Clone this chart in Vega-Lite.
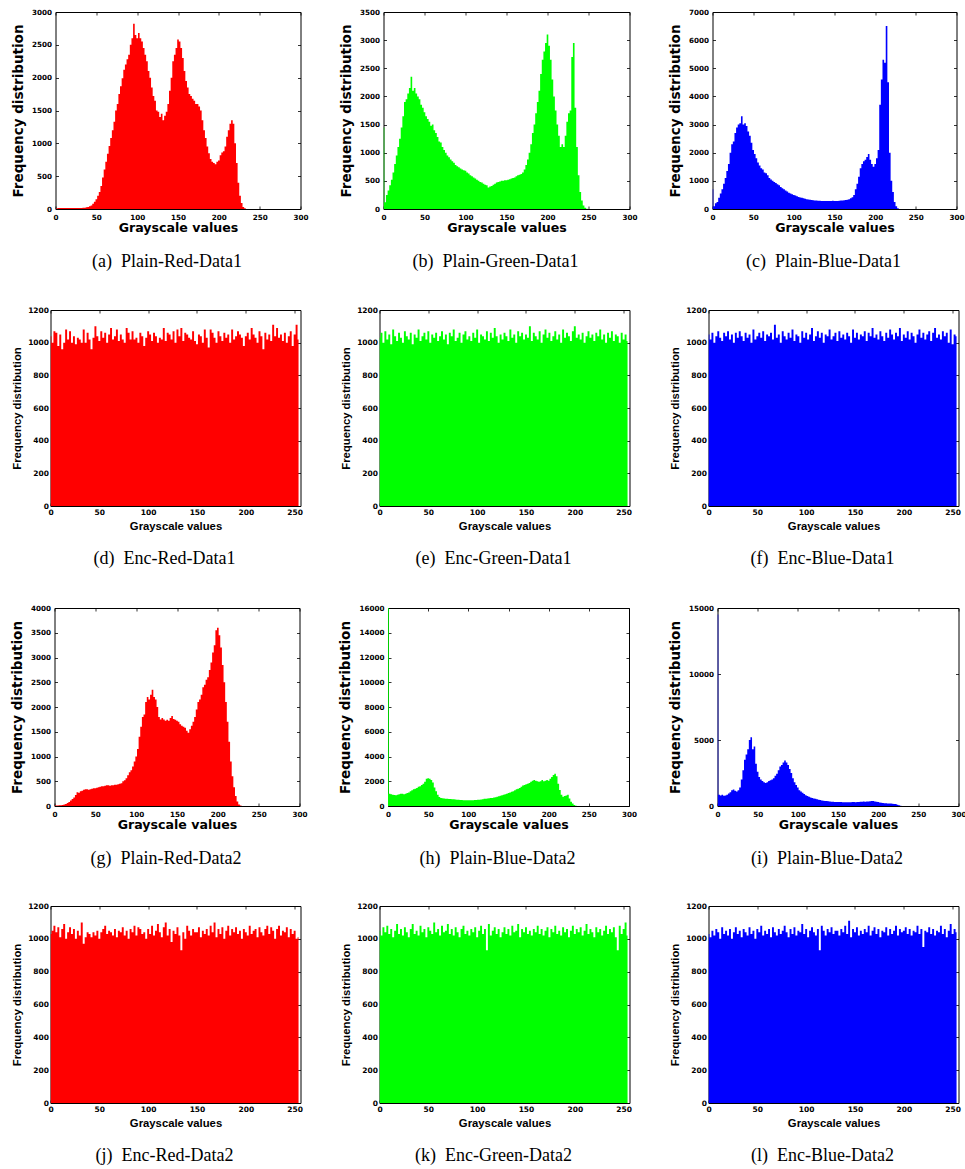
{
"$schema": "https://vega.github.io/schema/vega-lite/v6.json",
"padding": {"left": 9.5, "top": 7, "right": 0, "bottom": 0},
"background": "#ffffff",
"config": {
  "numberFormat": "d",
  "view": {"stroke": "#000000", "strokeWidth": 1},
  "axis": {"labelFont": "DejaVu Sans", "labelFontWeight": "bold", "labelFontSize": 7.2, "labelColor": "#000000", "titleFont": "DejaVu Sans", "titleFontWeight": "bold", "titleColor": "#000000", "domain": false, "ticks": true, "tickColor": "#000000", "tickSize": -3, "tickWidth": 0.8, "grid": false, "labelPadding": 7, "minExtent": 0, "labelFlush": false, "labelOverlap": false, "format": "d"},
  "axisX": {"titleFontSize": 12.6, "titlePadding": 1},
  "axisY": {"titleFontSize": 13.5, "titlePadding": 6},
  "title": {"font": "Liberation Serif", "fontSize": 18, "fontWeight": "normal", "color": "#000000", "orient": "bottom", "anchor": "middle", "frame": "group", "dx": -11}
},
"datasets": {
"p1": [
{"v":0,"r":0,"g":1450,"b":700},{"v":2,"r":10,"g":120,"b":100},{"v":4,"r":15,"g":250,"b":200},{"v":6,"r":15,"g":330,"b":250},{"v":8,"r":15,"g":420,"b":400},{"v":10,"r":15,"g":520,"b":550},{"v":12,"r":15,"g":650,"b":700},{"v":14,"r":15,"g":800,"b":900},{"v":16,"r":15,"g":950,"b":1100},{"v":18,"r":15,"g":1100,"b":1350},{"v":20,"r":15,"g":1250,"b":1600},{"v":22,"r":15,"g":1450,"b":2000},{"v":24,"r":15,"g":1650,"b":2300},{"v":26,"r":15,"g":1900,"b":2400},{"v":28,"r":15,"g":1950,"b":2700},{"v":30,"r":15,"g":2050,"b":2900},
{"v":32,"r":15,"g":2150,"b":3000},{"v":34,"r":20,"g":2350,"b":3050},{"v":36,"r":20,"g":2100,"b":3300},{"v":38,"r":25,"g":2150,"b":3000},{"v":40,"r":30,"g":2050,"b":3050},{"v":42,"r":40,"g":2000,"b":2950},{"v":44,"r":55,"g":1950,"b":2750},{"v":46,"r":80,"g":1850,"b":2600},{"v":48,"r":110,"g":1800,"b":2350},{"v":50,"r":150,"g":1720,"b":2100},{"v":52,"r":200,"g":1650,"b":1950},{"v":54,"r":260,"g":1600,"b":1800},{"v":56,"r":350,"g":1550,"b":1650},{"v":58,"r":480,"g":1480,"b":1550},{"v":60,"r":600,"g":1500,"b":1450},{"v":62,"r":720,"g":1400,"b":1400},
{"v":64,"r":840,"g":1350,"b":1300},{"v":66,"r":960,"g":1280,"b":1270},{"v":68,"r":1080,"g":1200,"b":1200},{"v":70,"r":1200,"g":1180,"b":1100},{"v":72,"r":1330,"g":1100,"b":1050},{"v":74,"r":1500,"g":1050,"b":1000},{"v":76,"r":1600,"g":1000,"b":960},{"v":78,"r":1750,"g":950,"b":920},{"v":80,"r":1870,"g":920,"b":880},{"v":82,"r":1990,"g":880,"b":840},{"v":84,"r":2120,"g":850,"b":780},{"v":86,"r":2200,"g":820,"b":740},{"v":88,"r":2280,"g":780,"b":700},{"v":90,"r":2350,"g":760,"b":660},{"v":92,"r":2500,"g":740,"b":620},{"v":94,"r":2600,"g":720,"b":580},
{"v":96,"r":2820,"g":700,"b":550},{"v":98,"r":2650,"g":690,"b":520},{"v":100,"r":2600,"g":680,"b":500},{"v":102,"r":2680,"g":650,"b":480},{"v":104,"r":2600,"g":630,"b":450},{"v":106,"r":2550,"g":600,"b":430},{"v":108,"r":2450,"g":580,"b":410},{"v":110,"r":2350,"g":560,"b":400},{"v":112,"r":2250,"g":540,"b":380},{"v":114,"r":2100,"g":520,"b":360},{"v":116,"r":2000,"g":500,"b":350},{"v":118,"r":1850,"g":480,"b":340},{"v":120,"r":1720,"g":470,"b":330},{"v":122,"r":1650,"g":450,"b":320},{"v":124,"r":1500,"g":430,"b":310},{"v":126,"r":1480,"g":420,"b":300},
{"v":128,"r":1400,"g":380,"b":300},{"v":130,"r":1450,"g":400,"b":290},{"v":132,"r":1350,"g":410,"b":290},{"v":134,"r":1420,"g":430,"b":280},{"v":136,"r":1480,"g":450,"b":280},{"v":138,"r":1600,"g":470,"b":280},{"v":140,"r":1800,"g":480,"b":280},{"v":142,"r":2000,"g":490,"b":280},{"v":144,"r":2250,"g":500,"b":280},{"v":146,"r":2350,"g":500,"b":280},{"v":148,"r":2450,"g":510,"b":290},{"v":150,"r":2580,"g":510,"b":280},{"v":152,"r":2550,"g":520,"b":280},{"v":154,"r":2450,"g":530,"b":280},{"v":156,"r":2300,"g":540,"b":290},{"v":158,"r":2100,"g":550,"b":300},
{"v":160,"r":1950,"g":560,"b":300},{"v":162,"r":1850,"g":580,"b":310},{"v":164,"r":1750,"g":600,"b":320},{"v":166,"r":1720,"g":610,"b":330},{"v":168,"r":1680,"g":620,"b":350},{"v":170,"r":1650,"g":650,"b":380},{"v":172,"r":1600,"g":700,"b":420},{"v":174,"r":1600,"g":780,"b":500},{"v":176,"r":1560,"g":880,"b":700},{"v":178,"r":1500,"g":1000,"b":900},{"v":180,"r":1350,"g":1150,"b":1150},{"v":182,"r":1200,"g":1350,"b":1450},{"v":184,"r":1080,"g":1500,"b":1600},{"v":186,"r":950,"g":1700,"b":1700},{"v":188,"r":850,"g":1900,"b":1750},{"v":190,"r":760,"g":2100,"b":1850},
{"v":192,"r":720,"g":2400,"b":1950},{"v":194,"r":700,"g":2650,"b":1750},{"v":196,"r":680,"g":2800,"b":1600},{"v":198,"r":720,"g":2950,"b":1500},{"v":200,"r":740,"g":3100,"b":1600},{"v":202,"r":820,"g":2900,"b":1800},{"v":204,"r":860,"g":2650,"b":2100},{"v":206,"r":880,"g":2300,"b":3700},{"v":208,"r":950,"g":2000,"b":4600},{"v":210,"r":1100,"g":1750,"b":5300},{"v":212,"r":1200,"g":1500,"b":5200},{"v":214,"r":1300,"g":1300,"b":6500},{"v":216,"r":1350,"g":1100,"b":4500},{"v":218,"r":1300,"g":1150,"b":2000},{"v":220,"r":1000,"g":1100,"b":1000},{"v":222,"r":700,"g":1300,"b":600},
{"v":224,"r":400,"g":1550,"b":250},{"v":226,"r":200,"g":1700,"b":100},{"v":228,"r":90,"g":1750,"b":30},{"v":230,"r":30,"g":2700,"b":0},{"v":232,"r":10,"g":2950,"b":0},{"v":234,"r":0,"g":1800,"b":0},{"v":236,"r":0,"g":1100,"b":0},{"v":238,"r":0,"g":600,"b":0},{"v":240,"r":0,"g":300,"b":0},{"v":242,"r":0,"g":150,"b":0},{"v":244,"r":0,"g":60,"b":0},{"v":246,"r":0,"g":20,"b":0},{"v":248,"r":0,"g":5,"b":0},{"v":250,"r":0,"g":0,"b":0},{"v":252,"r":0,"g":0,"b":0},{"v":254,"r":0,"g":0,"b":0}
],
"p2": [
{"v":0,"r":10,"g":16000,"b":14500},{"v":2,"r":10,"g":1000,"b":850},{"v":4,"r":10,"g":950,"b":800},{"v":6,"r":15,"g":900,"b":850},{"v":8,"r":15,"g":880,"b":780},{"v":10,"r":20,"g":860,"b":800},{"v":12,"r":30,"g":900,"b":850},{"v":14,"r":40,"g":950,"b":950},{"v":16,"r":60,"g":980,"b":1050},{"v":18,"r":80,"g":1000,"b":1200},{"v":20,"r":110,"g":950,"b":1250},{"v":22,"r":140,"g":980,"b":1150},{"v":24,"r":170,"g":1050,"b":1100},{"v":26,"r":220,"g":1100,"b":1200},{"v":28,"r":280,"g":1200,"b":1400},{"v":30,"r":270,"g":1280,"b":2000},
{"v":32,"r":300,"g":1350,"b":2700},{"v":34,"r":310,"g":1400,"b":3500},{"v":36,"r":330,"g":1450,"b":3900},{"v":38,"r":340,"g":1550,"b":4300},{"v":40,"r":340,"g":1600,"b":5000},{"v":42,"r":330,"g":1700,"b":5200},{"v":44,"r":340,"g":1800,"b":4300},{"v":46,"r":350,"g":1950,"b":4500},{"v":48,"r":360,"g":2200,"b":3200},{"v":50,"r":360,"g":2250,"b":2600},{"v":52,"r":370,"g":2200,"b":2200},{"v":54,"r":380,"g":2100,"b":2000},{"v":56,"r":390,"g":1900,"b":1900},{"v":58,"r":400,"g":1500,"b":1800},{"v":60,"r":400,"g":1200,"b":1750},{"v":62,"r":410,"g":900,"b":1800},
{"v":64,"r":420,"g":720,"b":1900},{"v":66,"r":420,"g":650,"b":1950},{"v":68,"r":410,"g":620,"b":2000},{"v":70,"r":420,"g":600,"b":2100},{"v":72,"r":420,"g":590,"b":2300},{"v":74,"r":430,"g":580,"b":2450},{"v":76,"r":430,"g":570,"b":2700},{"v":78,"r":440,"g":560,"b":3000},{"v":80,"r":450,"g":550,"b":3100},{"v":82,"r":460,"g":540,"b":3300},{"v":84,"r":500,"g":520,"b":3450},{"v":86,"r":520,"g":510,"b":3300},{"v":88,"r":560,"g":500,"b":3100},{"v":90,"r":620,"g":490,"b":2800},{"v":92,"r":680,"g":480,"b":2500},{"v":94,"r":720,"g":470,"b":2100},
{"v":96,"r":800,"g":460,"b":1800},{"v":98,"r":900,"g":460,"b":1600},{"v":100,"r":1000,"g":460,"b":1400},{"v":102,"r":1150,"g":460,"b":1200},{"v":104,"r":1400,"g":470,"b":1100},{"v":106,"r":1600,"g":470,"b":1000},{"v":108,"r":1800,"g":480,"b":900},{"v":110,"r":1850,"g":490,"b":820},{"v":112,"r":2100,"g":500,"b":760},{"v":114,"r":2200,"g":510,"b":700},{"v":116,"r":2150,"g":530,"b":650},{"v":118,"r":2250,"g":550,"b":600},{"v":120,"r":2350,"g":580,"b":560},{"v":122,"r":2200,"g":590,"b":540},{"v":124,"r":2150,"g":600,"b":520},{"v":126,"r":2000,"g":620,"b":480},
{"v":128,"r":1800,"g":640,"b":450},{"v":130,"r":1750,"g":650,"b":420},{"v":132,"r":1780,"g":680,"b":400},{"v":134,"r":1750,"g":700,"b":380},{"v":136,"r":1720,"g":740,"b":370},{"v":138,"r":1740,"g":780,"b":360},{"v":140,"r":1720,"g":820,"b":340},{"v":142,"r":1780,"g":860,"b":330},{"v":144,"r":1820,"g":900,"b":320},{"v":146,"r":1760,"g":950,"b":310},{"v":148,"r":1740,"g":1000,"b":300},{"v":150,"r":1720,"g":1050,"b":300},{"v":152,"r":1700,"g":1100,"b":300},{"v":154,"r":1650,"g":1150,"b":300},{"v":156,"r":1620,"g":1200,"b":290},{"v":158,"r":1600,"g":1280,"b":290},
{"v":160,"r":1580,"g":1350,"b":290},{"v":162,"r":1520,"g":1400,"b":290},{"v":164,"r":1480,"g":1450,"b":280},{"v":166,"r":1550,"g":1550,"b":290},{"v":168,"r":1620,"g":1650,"b":300},{"v":170,"r":1700,"g":1700,"b":300},{"v":172,"r":1800,"g":1750,"b":290},{"v":174,"r":1950,"g":1800,"b":300},{"v":176,"r":2100,"g":1850,"b":310},{"v":178,"r":2150,"g":1950,"b":320},{"v":180,"r":2250,"g":2050,"b":330},{"v":182,"r":2400,"g":2100,"b":340},{"v":184,"r":2450,"g":2050,"b":330},{"v":186,"r":2550,"g":2000,"b":350},{"v":188,"r":2600,"g":1950,"b":340},{"v":190,"r":2750,"g":2000,"b":360},
{"v":192,"r":2900,"g":2100,"b":370},{"v":194,"r":3100,"g":2000,"b":380},{"v":196,"r":3250,"g":2050,"b":350},{"v":198,"r":3550,"g":2100,"b":320},{"v":200,"r":3600,"g":2050,"b":300},{"v":202,"r":3450,"g":2200,"b":260},{"v":204,"r":3200,"g":2350,"b":240},{"v":206,"r":2850,"g":2500,"b":220},{"v":208,"r":2500,"g":2600,"b":210},{"v":210,"r":2100,"g":2400,"b":200},{"v":212,"r":1700,"g":1800,"b":190},{"v":214,"r":1300,"g":1300,"b":180},{"v":216,"r":900,"g":900,"b":180},{"v":218,"r":600,"g":750,"b":170},{"v":220,"r":380,"g":800,"b":160},{"v":222,"r":200,"g":850,"b":150},
{"v":224,"r":90,"g":900,"b":100},{"v":226,"r":30,"g":600,"b":50},{"v":228,"r":10,"g":350,"b":20},{"v":230,"r":0,"g":200,"b":0},{"v":232,"r":0,"g":80,"b":0},{"v":234,"r":0,"g":30,"b":0},{"v":236,"r":0,"g":10,"b":0},{"v":238,"r":0,"g":0,"b":0},{"v":240,"r":0,"g":0,"b":0},{"v":242,"r":0,"g":0,"b":0},{"v":244,"r":0,"g":0,"b":0},{"v":246,"r":0,"g":0,"b":0},{"v":248,"r":0,"g":0,"b":0},{"v":250,"r":0,"g":0,"b":0},{"v":252,"r":0,"g":0,"b":0},{"v":254,"r":0,"g":0,"b":0}
],
"e1": [
{"v":0,"r":1040,"g":1030,"b":1050},{"v":2,"r":1000,"g":1060,"b":1020},{"v":4,"r":1070,"g":1000,"b":1060},{"v":6,"r":1060,"g":1070,"b":1000},{"v":8,"r":980,"g":1020,"b":1040},{"v":10,"r":1050,"g":1050,"b":1070},{"v":12,"r":960,"g":990,"b":1030},{"v":14,"r":1000,"g":1080,"b":1010},{"v":16,"r":1080,"g":1040,"b":1060},{"v":18,"r":1020,"g":1010,"b":1040},{"v":20,"r":1070,"g":1060,"b":1070},{"v":22,"r":1000,"g":1030,"b":1020},{"v":24,"r":1040,"g":1000,"b":1050},{"v":26,"r":990,"g":1070,"b":1000},{"v":28,"r":1030,"g":1040,"b":1060},{"v":30,"r":1020,"g":1020,"b":1030},
{"v":32,"r":1000,"g":1060,"b":1070},{"v":34,"r":1080,"g":990,"b":1040},{"v":36,"r":1000,"g":1050,"b":1010},{"v":38,"r":1060,"g":1030,"b":1060},{"v":40,"r":1020,"g":1080,"b":1030},{"v":42,"r":960,"g":1010,"b":1050},{"v":44,"r":1030,"g":1040,"b":1000},{"v":46,"r":1100,"g":1060,"b":1080},{"v":48,"r":1040,"g":1020,"b":1020},{"v":50,"r":1010,"g":1070,"b":1040},{"v":52,"r":1070,"g":1000,"b":1060},{"v":54,"r":1030,"g":1050,"b":1030},{"v":56,"r":1060,"g":1030,"b":1070},{"v":58,"r":1000,"g":1060,"b":1010},{"v":60,"r":1050,"g":1010,"b":1050},{"v":62,"r":1090,"g":1040,"b":1040},
{"v":64,"r":1020,"g":1070,"b":1060},{"v":66,"r":1040,"g":1020,"b":1020},{"v":68,"r":1080,"g":1050,"b":1110},{"v":70,"r":1010,"g":990,"b":1030},{"v":72,"r":1050,"g":1060,"b":1050},{"v":74,"r":1020,"g":1040,"b":1000},{"v":76,"r":1000,"g":1080,"b":1070},{"v":78,"r":1090,"g":1010,"b":1040},{"v":80,"r":1060,"g":1030,"b":1020},{"v":82,"r":1020,"g":1060,"b":1060},{"v":84,"r":1070,"g":1000,"b":1030},{"v":86,"r":1020,"g":1050,"b":1080},{"v":88,"r":1030,"g":1070,"b":1010},{"v":90,"r":1000,"g":1020,"b":1050},{"v":92,"r":1060,"g":1040,"b":1040},{"v":94,"r":1040,"g":1010,"b":1000},
{"v":96,"r":980,"g":1060,"b":1070},{"v":98,"r":1030,"g":1030,"b":1030},{"v":100,"r":1070,"g":1080,"b":1060},{"v":102,"r":1050,"g":1000,"b":1020},{"v":104,"r":1010,"g":1050,"b":1050},{"v":106,"r":1060,"g":1040,"b":1090},{"v":108,"r":1040,"g":1020,"b":1010},{"v":110,"r":1000,"g":1070,"b":1040},{"v":112,"r":1030,"g":1010,"b":1070},{"v":114,"r":1020,"g":1060,"b":1030},{"v":116,"r":1090,"g":1030,"b":1060},{"v":118,"r":1010,"g":1090,"b":1000},{"v":120,"r":1060,"g":1040,"b":1050},{"v":122,"r":1050,"g":1000,"b":1040},{"v":124,"r":1020,"g":1050,"b":1080},{"v":126,"r":1070,"g":1020,"b":1020},
{"v":128,"r":1000,"g":1060,"b":1040},{"v":130,"r":1080,"g":1040,"b":1060},{"v":132,"r":1040,"g":1010,"b":1010},{"v":134,"r":1090,"g":1080,"b":1070},{"v":136,"r":1010,"g":1030,"b":1030},{"v":138,"r":1060,"g":1050,"b":1050},{"v":140,"r":1050,"g":1000,"b":1020},{"v":142,"r":1030,"g":1070,"b":1060},{"v":144,"r":1020,"g":1040,"b":1040},{"v":146,"r":1070,"g":1060,"b":1000},{"v":148,"r":1010,"g":1020,"b":1080},{"v":150,"r":990,"g":1050,"b":1030},{"v":152,"r":1050,"g":1030,"b":1060},{"v":154,"r":1040,"g":1100,"b":1020},{"v":156,"r":1000,"g":1010,"b":1050},{"v":158,"r":1080,"g":1060,"b":1040},
{"v":160,"r":1030,"g":1040,"b":1070},{"v":162,"r":970,"g":1020,"b":1010},{"v":164,"r":1080,"g":1070,"b":1060},{"v":166,"r":1060,"g":1000,"b":1040},{"v":168,"r":1030,"g":1050,"b":1090},{"v":170,"r":1000,"g":1080,"b":1030},{"v":172,"r":1070,"g":1030,"b":1050},{"v":174,"r":1040,"g":1060,"b":1020},{"v":176,"r":1010,"g":1010,"b":1070},{"v":178,"r":1060,"g":1040,"b":1040},{"v":180,"r":1030,"g":1070,"b":1010},{"v":182,"r":1050,"g":1020,"b":1060},{"v":184,"r":1000,"g":1050,"b":1030},{"v":186,"r":1080,"g":1000,"b":1080},{"v":188,"r":1020,"g":1080,"b":1050},{"v":190,"r":1040,"g":1030,"b":1020},
{"v":192,"r":1070,"g":1060,"b":1060},{"v":194,"r":1050,"g":1040,"b":1040},{"v":196,"r":1030,"g":1010,"b":1090},{"v":198,"r":980,"g":1070,"b":1010},{"v":200,"r":1040,"g":1100,"b":1050},{"v":202,"r":1060,"g":1030,"b":1030},{"v":204,"r":1020,"g":1050,"b":1070},{"v":206,"r":1090,"g":1020,"b":1020},{"v":208,"r":1050,"g":1060,"b":1060},{"v":210,"r":1030,"g":1000,"b":1040},{"v":212,"r":1000,"g":1040,"b":1000},{"v":214,"r":1070,"g":1070,"b":1050},{"v":216,"r":1040,"g":1030,"b":1080},{"v":218,"r":960,"g":1050,"b":1030},{"v":220,"r":1060,"g":1010,"b":1060},{"v":222,"r":1020,"g":1060,"b":1020},
{"v":224,"r":1050,"g":1040,"b":1050},{"v":226,"r":1010,"g":1080,"b":1070},{"v":228,"r":1110,"g":1020,"b":1010},{"v":230,"r":1040,"g":1050,"b":1060},{"v":232,"r":1090,"g":1000,"b":1090},{"v":234,"r":1030,"g":1060,"b":1030},{"v":236,"r":1050,"g":1030,"b":1050},{"v":238,"r":1010,"g":1070,"b":1020},{"v":240,"r":1060,"g":1010,"b":1070},{"v":242,"r":1000,"g":1050,"b":1040},{"v":244,"r":1040,"g":1040,"b":1060},{"v":246,"r":1070,"g":1000,"b":1000},{"v":248,"r":980,"g":1060,"b":1080},{"v":250,"r":1050,"g":1020,"b":990},{"v":252,"r":1110,"g":1050,"b":1050},{"v":254,"r":1020,"g":1010,"b":1040}
],
"e2": [
{"v":0,"r":1030,"g":1050,"b":1030},{"v":2,"r":1050,"g":1020,"b":1010},{"v":4,"r":1080,"g":1070,"b":1050},{"v":6,"r":1040,"g":1040,"b":1020},{"v":8,"r":1070,"g":1080,"b":1060},{"v":10,"r":1010,"g":1030,"b":1040},{"v":12,"r":1060,"g":1060,"b":1000},{"v":14,"r":1090,"g":1010,"b":1070},{"v":16,"r":1000,"g":1050,"b":1030},{"v":18,"r":1040,"g":1090,"b":1050},{"v":20,"r":1070,"g":1030,"b":1020},{"v":22,"r":1030,"g":1060,"b":1060},{"v":24,"r":1060,"g":1020,"b":1000},{"v":26,"r":1000,"g":1070,"b":1040},{"v":28,"r":1050,"g":1040,"b":1070},{"v":30,"r":1020,"g":1010,"b":1030},
{"v":32,"r":1100,"g":1060,"b":1050},{"v":34,"r":970,"g":1090,"b":1010},{"v":36,"r":1010,"g":1030,"b":1060},{"v":38,"r":1040,"g":1050,"b":1040},{"v":40,"r":1030,"g":1020,"b":1020},{"v":42,"r":1010,"g":1080,"b":1070},{"v":44,"r":1040,"g":1040,"b":1030},{"v":46,"r":1020,"g":1060,"b":1050},{"v":48,"r":1050,"g":1010,"b":1000},{"v":50,"r":1000,"g":1070,"b":1060},{"v":52,"r":1040,"g":1050,"b":1040},{"v":54,"r":1060,"g":1030,"b":1080},{"v":56,"r":1080,"g":1100,"b":1020},{"v":58,"r":1030,"g":1040,"b":1050},{"v":60,"r":1050,"g":1060,"b":1030},{"v":62,"r":1040,"g":1020,"b":1060},
{"v":64,"r":1020,"g":1080,"b":1010},{"v":66,"r":1060,"g":1040,"b":1070},{"v":68,"r":1010,"g":1050,"b":1040},{"v":70,"r":1050,"g":1090,"b":1020},{"v":72,"r":1040,"g":1030,"b":1060},{"v":74,"r":1070,"g":1060,"b":1030},{"v":76,"r":1020,"g":1020,"b":1050},{"v":78,"r":1050,"g":1070,"b":1080},{"v":80,"r":1000,"g":1040,"b":1040},{"v":82,"r":1060,"g":1010,"b":1010},{"v":84,"r":1040,"g":1060,"b":1060},{"v":86,"r":1080,"g":1080,"b":1030},{"v":88,"r":1020,"g":1030,"b":1070},{"v":90,"r":1070,"g":1050,"b":1020},{"v":92,"r":1060,"g":1020,"b":1050},{"v":94,"r":1030,"g":1060,"b":1040},
{"v":96,"r":1040,"g":1040,"b":1090},{"v":98,"r":1000,"g":1070,"b":1030},{"v":100,"r":1060,"g":1010,"b":1060},{"v":102,"r":1030,"g":1050,"b":1010},{"v":104,"r":1080,"g":1080,"b":1050},{"v":106,"r":1020,"g":1030,"b":1070},{"v":108,"r":1050,"g":1060,"b":1040},{"v":110,"r":1090,"g":930,"b":1020},{"v":112,"r":1040,"g":1090,"b":1060},{"v":114,"r":1010,"g":1020,"b":930},{"v":116,"r":1070,"g":1050,"b":1080},{"v":118,"r":1100,"g":1070,"b":1050},{"v":120,"r":1020,"g":1030,"b":1020},{"v":122,"r":1060,"g":1060,"b":1060},{"v":124,"r":980,"g":1010,"b":1040},{"v":126,"r":1050,"g":1040,"b":1070},
{"v":128,"r":1030,"g":1070,"b":1030},{"v":130,"r":1070,"g":1030,"b":1050},{"v":132,"r":1020,"g":1060,"b":1050},{"v":134,"r":930,"g":1020,"b":1020},{"v":136,"r":1040,"g":1080,"b":1060},{"v":138,"r":1000,"g":1040,"b":1040},{"v":140,"r":1080,"g":1050,"b":1080},{"v":142,"r":1050,"g":1090,"b":1030},{"v":144,"r":1020,"g":1010,"b":1110},{"v":146,"r":1060,"g":1060,"b":1010},{"v":148,"r":1040,"g":1040,"b":1060},{"v":150,"r":1040,"g":1070,"b":1040},{"v":152,"r":1070,"g":1030,"b":1070},{"v":154,"r":1010,"g":1050,"b":1020},{"v":156,"r":1050,"g":1020,"b":1050},{"v":158,"r":1030,"g":1060,"b":1030},
{"v":160,"r":1060,"g":1040,"b":1060},{"v":162,"r":1020,"g":1080,"b":1040},{"v":164,"r":1080,"g":1030,"b":1080},{"v":166,"r":1040,"g":1060,"b":1020},{"v":168,"r":1100,"g":1020,"b":1050},{"v":170,"r":1010,"g":1050,"b":1070},{"v":172,"r":1060,"g":1070,"b":1030},{"v":174,"r":1030,"g":1010,"b":1060},{"v":176,"r":1070,"g":1060,"b":1010},{"v":178,"r":1000,"g":1040,"b":1050},{"v":180,"r":1050,"g":1080,"b":1040},{"v":182,"r":1080,"g":1030,"b":1070},{"v":184,"r":1020,"g":1050,"b":1020},{"v":186,"r":1060,"g":1020,"b":1060},{"v":188,"r":1040,"g":1070,"b":1030},{"v":190,"r":1070,"g":1040,"b":1050},
{"v":192,"r":1030,"g":1060,"b":1080},{"v":194,"r":1050,"g":1010,"b":1020},{"v":196,"r":1000,"g":1050,"b":1060},{"v":198,"r":1060,"g":1080,"b":1040},{"v":200,"r":1040,"g":1030,"b":1050},{"v":202,"r":1020,"g":1060,"b":1070},{"v":204,"r":1080,"g":1040,"b":1030},{"v":206,"r":1030,"g":1070,"b":1060},{"v":208,"r":1050,"g":1020,"b":1020},{"v":210,"r":1060,"g":1050,"b":1050},{"v":212,"r":1010,"g":1090,"b":1040},{"v":214,"r":1070,"g":1030,"b":1080},{"v":216,"r":1040,"g":1060,"b":1030},{"v":218,"r":1020,"g":1040,"b":1060},{"v":220,"r":1060,"g":1010,"b":950},{"v":222,"r":1080,"g":1070,"b":1050},
{"v":224,"r":1030,"g":1040,"b":1040},{"v":226,"r":1070,"g":1060,"b":1070},{"v":228,"r":1050,"g":1020,"b":1030},{"v":230,"r":1000,"g":1050,"b":1060},{"v":232,"r":1060,"g":1080,"b":1020},{"v":234,"r":1080,"g":1030,"b":1050},{"v":236,"r":1020,"g":1060,"b":1040},{"v":238,"r":1050,"g":1040,"b":1080},{"v":240,"r":1040,"g":1070,"b":1030},{"v":242,"r":1070,"g":1010,"b":1060},{"v":244,"r":1010,"g":930,"b":1010},{"v":246,"r":1060,"g":1080,"b":1050},{"v":248,"r":1030,"g":1030,"b":1090},{"v":250,"r":1050,"g":1060,"b":1030},{"v":252,"r":1000,"g":1100,"b":1060},{"v":254,"r":1010,"g":1020,"b":1040}
],
"blank": [{"k": 0}]
},
"concat": [
{"hconcat": [
 {"width": 5, "height": 197, "data": {"name": "blank"}, "mark": {"type": "point", "opacity": 0}, "view": {"stroke": null}},
 {"hconcat": [
 {"width": 245, "height": 197, "data": {"name": "p1"}, "title": {"text": "(a)\u00a0 Plain-Red-Data1", "offset": 19.5},
  "layer": [
   {"mark": {"type": "area", "interpolate": "step", "color": "#ff0000", "clip": true},
    "encoding": {"x": {"field": "v", "type": "quantitative", "scale": {"domain": [0, 300], "nice": false}, "axis": {"values": [0, 50, 100, 150, 200, 250, 300], "title": "Grayscale values"}},
                 "y": {"field": "r", "type": "quantitative", "scale": {"domain": [0, 3000], "nice": false}, "axis": {"values": [0, 500, 1000, 1500, 2000, 2500, 3000], "title": "Frequency distribution"}}}},
   {"mark": {"type": "point", "opacity": 0},
    "encoding": {"x": {"field": "v", "type": "quantitative", "scale": {"domain": [0, 300], "nice": false}, "axis": {"orient": "top", "labels": false, "title": null, "values": [0, 50, 100, 150, 200, 250, 300]}},
                 "y": {"field": "r", "type": "quantitative", "scale": {"domain": [0, 3000], "nice": false}, "axis": {"orient": "right", "labels": false, "title": null, "values": [0, 500, 1000, 1500, 2000, 2500, 3000]}}}}
  ],
  "resolve": {"axis": {"x": "independent", "y": "independent"}}},
 {"width": 246, "height": 197, "data": {"name": "p1"}, "title": {"text": "(b)\u00a0 Plain-Green-Data1", "offset": 19.5},
  "layer": [
   {"mark": {"type": "area", "interpolate": "step", "color": "#00ff00", "clip": true},
    "encoding": {"x": {"field": "v", "type": "quantitative", "scale": {"domain": [0, 300], "nice": false}, "axis": {"values": [0, 50, 100, 150, 200, 250, 300], "title": "Grayscale values"}},
                 "y": {"field": "g", "type": "quantitative", "scale": {"domain": [0, 3500], "nice": false}, "axis": {"values": [0, 500, 1000, 1500, 2000, 2500, 3000, 3500], "title": "Frequency distribution"}}}},
   {"mark": {"type": "point", "opacity": 0},
    "encoding": {"x": {"field": "v", "type": "quantitative", "scale": {"domain": [0, 300], "nice": false}, "axis": {"orient": "top", "labels": false, "title": null, "values": [0, 50, 100, 150, 200, 250, 300]}},
                 "y": {"field": "g", "type": "quantitative", "scale": {"domain": [0, 3500], "nice": false}, "axis": {"orient": "right", "labels": false, "title": null, "values": [0, 500, 1000, 1500, 2000, 2500, 3000, 3500]}}}}
  ],
  "resolve": {"axis": {"x": "independent", "y": "independent"}}},
 {"width": 244, "height": 197, "data": {"name": "p1"}, "title": {"text": "(c)\u00a0 Plain-Blue-Data1", "offset": 19.5},
  "layer": [
   {"mark": {"type": "area", "interpolate": "step", "color": "#0000ff", "clip": true},
    "encoding": {"x": {"field": "v", "type": "quantitative", "scale": {"domain": [0, 300], "nice": false}, "axis": {"values": [0, 50, 100, 150, 200, 250, 300], "title": "Grayscale values"}},
                 "y": {"field": "b", "type": "quantitative", "scale": {"domain": [0, 7000], "nice": false}, "axis": {"values": [0, 1000, 2000, 3000, 4000, 5000, 6000, 7000], "title": "Frequency distribution"}}}},
   {"mark": {"type": "point", "opacity": 0},
    "encoding": {"x": {"field": "v", "type": "quantitative", "scale": {"domain": [0, 300], "nice": false}, "axis": {"orient": "top", "labels": false, "title": null, "values": [0, 50, 100, 150, 200, 250, 300]}},
                 "y": {"field": "b", "type": "quantitative", "scale": {"domain": [0, 7000], "nice": false}, "axis": {"orient": "right", "labels": false, "title": null, "values": [0, 1000, 2000, 3000, 4000, 5000, 6000, 7000]}}}}
  ],
  "resolve": {"axis": {"x": "independent", "y": "independent"}}}
 ], "spacing": 83, "bounds": "flush"}
], "spacing": 0, "bounds": "flush"},
{"hconcat": [
 {"width": 250, "height": 196, "data": {"name": "e1"}, "title": {"text": "(d)\u00a0 Enc-Red-Data1", "offset": 18.5},
  "layer": [
   {"mark": {"type": "area", "interpolate": "step", "color": "#ff0000", "clip": true},
    "encoding": {"x": {"field": "v", "type": "quantitative", "scale": {"domain": [0, 256], "nice": false}, "axis": {"values": [0, 50, 100, 150, 200, 250], "title": "Grayscale values", "labelFontSize": 7.5, "labelPadding": 5, "titleFont": "Liberation Sans", "titleFontSize": 11.3, "titlePadding": 4.5}},
                 "y": {"field": "r", "type": "quantitative", "scale": {"domain": [0, 1200], "nice": false}, "axis": {"values": [0, 200, 400, 600, 800, 1000, 1200], "title": "Frequency distribution", "labelFontSize": 7.5, "labelPadding": 5, "titleFont": "Liberation Sans", "titleFontSize": 11.3, "titlePadding": 5.3}}}},
   {"mark": {"type": "point", "opacity": 0},
    "encoding": {"x": {"field": "v", "type": "quantitative", "scale": {"domain": [0, 256], "nice": false}, "axis": {"orient": "top", "labels": false, "title": null, "values": [0, 50, 100, 150, 200, 250]}},
                 "y": {"field": "r", "type": "quantitative", "scale": {"domain": [0, 1200], "nice": false}, "axis": {"orient": "right", "labels": false, "title": null, "values": [0, 200, 400, 600, 800, 1000, 1200]}}}}
  ],
  "resolve": {"axis": {"x": "independent", "y": "independent"}}},
 {"width": 250, "height": 196, "data": {"name": "e1"}, "title": {"text": "(e)\u00a0 Enc-Green-Data1", "offset": 18.5},
  "layer": [
   {"mark": {"type": "area", "interpolate": "step", "color": "#00ff00", "clip": true},
    "encoding": {"x": {"field": "v", "type": "quantitative", "scale": {"domain": [0, 256], "nice": false}, "axis": {"values": [0, 50, 100, 150, 200, 250], "title": "Grayscale values", "labelFontSize": 7.5, "labelPadding": 5, "titleFont": "Liberation Sans", "titleFontSize": 11.3, "titlePadding": 4.5}},
                 "y": {"field": "g", "type": "quantitative", "scale": {"domain": [0, 1200], "nice": false}, "axis": {"values": [0, 200, 400, 600, 800, 1000, 1200], "title": "Frequency distribution", "labelFontSize": 7.5, "labelPadding": 5, "titleFont": "Liberation Sans", "titleFontSize": 11.3, "titlePadding": 5.3}}}},
   {"mark": {"type": "point", "opacity": 0},
    "encoding": {"x": {"field": "v", "type": "quantitative", "scale": {"domain": [0, 256], "nice": false}, "axis": {"orient": "top", "labels": false, "title": null, "values": [0, 50, 100, 150, 200, 250]}},
                 "y": {"field": "g", "type": "quantitative", "scale": {"domain": [0, 1200], "nice": false}, "axis": {"orient": "right", "labels": false, "title": null, "values": [0, 200, 400, 600, 800, 1000, 1200]}}}}
  ],
  "resolve": {"axis": {"x": "independent", "y": "independent"}}},
 {"width": 250, "height": 196, "data": {"name": "e1"}, "title": {"text": "(f)\u00a0 Enc-Blue-Data1", "offset": 18.5},
  "layer": [
   {"mark": {"type": "area", "interpolate": "step", "color": "#0000ff", "clip": true},
    "encoding": {"x": {"field": "v", "type": "quantitative", "scale": {"domain": [0, 256], "nice": false}, "axis": {"values": [0, 50, 100, 150, 200, 250], "title": "Grayscale values", "labelFontSize": 7.5, "labelPadding": 5, "titleFont": "Liberation Sans", "titleFontSize": 11.3, "titlePadding": 4.5}},
                 "y": {"field": "b", "type": "quantitative", "scale": {"domain": [0, 1200], "nice": false}, "axis": {"values": [0, 200, 400, 600, 800, 1000, 1200], "title": "Frequency distribution", "labelFontSize": 7.5, "labelPadding": 5, "titleFont": "Liberation Sans", "titleFontSize": 11.3, "titlePadding": 5.3}}}},
   {"mark": {"type": "point", "opacity": 0},
    "encoding": {"x": {"field": "v", "type": "quantitative", "scale": {"domain": [0, 256], "nice": false}, "axis": {"orient": "top", "labels": false, "title": null, "values": [0, 50, 100, 150, 200, 250]}},
                 "y": {"field": "b", "type": "quantitative", "scale": {"domain": [0, 1200], "nice": false}, "axis": {"orient": "right", "labels": false, "title": null, "values": [0, 200, 400, 600, 800, 1000, 1200]}}}}
  ],
  "resolve": {"axis": {"x": "independent", "y": "independent"}}}
], "spacing": 79, "bounds": "flush"},
{"hconcat": [
 {"width": 4, "height": 198, "data": {"name": "blank"}, "mark": {"type": "point", "opacity": 0}, "view": {"stroke": null}},
 {"hconcat": [
 {"width": 245, "height": 198, "data": {"name": "p2"}, "title": {"text": "(g)\u00a0 Plain-Red-Data2", "offset": 19.5},
  "layer": [
   {"mark": {"type": "area", "interpolate": "step", "color": "#ff0000", "clip": true},
    "encoding": {"x": {"field": "v", "type": "quantitative", "scale": {"domain": [0, 300], "nice": false}, "axis": {"values": [0, 50, 100, 150, 200, 250, 300], "title": "Grayscale values"}},
                 "y": {"field": "r", "type": "quantitative", "scale": {"domain": [0, 4000], "nice": false}, "axis": {"values": [0, 500, 1000, 1500, 2000, 2500, 3000, 3500, 4000], "title": "Frequency distribution"}}}},
   {"mark": {"type": "point", "opacity": 0},
    "encoding": {"x": {"field": "v", "type": "quantitative", "scale": {"domain": [0, 300], "nice": false}, "axis": {"orient": "top", "labels": false, "title": null, "values": [0, 50, 100, 150, 200, 250, 300]}},
                 "y": {"field": "r", "type": "quantitative", "scale": {"domain": [0, 4000], "nice": false}, "axis": {"orient": "right", "labels": false, "title": null, "values": [0, 500, 1000, 1500, 2000, 2500, 3000, 3500, 4000]}}}}
  ],
  "resolve": {"axis": {"x": "independent", "y": "independent"}}},
 {"width": 241, "height": 198, "data": {"name": "p2"}, "title": {"text": "(h)\u00a0 Plain-Blue-Data2", "offset": 19.5},
  "layer": [
   {"mark": {"type": "area", "interpolate": "step", "color": "#00ff00", "clip": true},
    "encoding": {"x": {"field": "v", "type": "quantitative", "scale": {"domain": [0, 300], "nice": false}, "axis": {"values": [0, 50, 100, 150, 200, 250, 300], "title": "Grayscale values"}},
                 "y": {"field": "g", "type": "quantitative", "scale": {"domain": [0, 16000], "nice": false}, "axis": {"values": [0, 2000, 4000, 6000, 8000, 10000, 12000, 14000, 16000], "title": "Frequency distribution"}}}},
   {"mark": {"type": "point", "opacity": 0},
    "encoding": {"x": {"field": "v", "type": "quantitative", "scale": {"domain": [0, 300], "nice": false}, "axis": {"orient": "top", "labels": false, "title": null, "values": [0, 50, 100, 150, 200, 250, 300]}},
                 "y": {"field": "g", "type": "quantitative", "scale": {"domain": [0, 16000], "nice": false}, "axis": {"orient": "right", "labels": false, "title": null, "values": [0, 2000, 4000, 6000, 8000, 10000, 12000, 14000, 16000]}}}}
  ],
  "resolve": {"axis": {"x": "independent", "y": "independent"}}},
 {"width": 241, "height": 198, "data": {"name": "p2"}, "title": {"text": "(i)\u00a0 Plain-Blue-Data2", "offset": 19.5},
  "layer": [
   {"mark": {"type": "area", "interpolate": "step", "color": "#0000ff", "clip": true},
    "encoding": {"x": {"field": "v", "type": "quantitative", "scale": {"domain": [0, 300], "nice": false}, "axis": {"values": [0, 50, 100, 150, 200, 250, 300], "title": "Grayscale values"}},
                 "y": {"field": "b", "type": "quantitative", "scale": {"domain": [0, 15000], "nice": false}, "axis": {"values": [0, 5000, 10000, 15000], "title": "Frequency distribution"}}}},
   {"mark": {"type": "point", "opacity": 0},
    "encoding": {"x": {"field": "v", "type": "quantitative", "scale": {"domain": [0, 300], "nice": false}, "axis": {"orient": "top", "labels": false, "title": null, "values": [0, 50, 100, 150, 200, 250, 300]}},
                 "y": {"field": "b", "type": "quantitative", "scale": {"domain": [0, 15000], "nice": false}, "axis": {"orient": "right", "labels": false, "title": null, "values": [0, 5000, 10000, 15000]}}}}
  ],
  "resolve": {"axis": {"x": "independent", "y": "independent"}}}
 ], "spacing": 88.5, "bounds": "flush"}
], "spacing": 0, "bounds": "flush"},
{"hconcat": [
 {"width": 250, "height": 197, "data": {"name": "e2"}, "title": {"text": "(j)\u00a0 Enc-Red-Data2", "offset": 18.5},
  "layer": [
   {"mark": {"type": "area", "interpolate": "step", "color": "#ff0000", "clip": true},
    "encoding": {"x": {"field": "v", "type": "quantitative", "scale": {"domain": [0, 256], "nice": false}, "axis": {"values": [0, 50, 100, 150, 200, 250], "title": "Grayscale values", "labelFontSize": 7.5, "labelPadding": 5, "titleFont": "Liberation Sans", "titleFontSize": 11.3, "titlePadding": 4.5}},
                 "y": {"field": "r", "type": "quantitative", "scale": {"domain": [0, 1200], "nice": false}, "axis": {"values": [0, 200, 400, 600, 800, 1000, 1200], "title": "Frequency distribution", "labelFontSize": 7.5, "labelPadding": 5, "titleFont": "Liberation Sans", "titleFontSize": 11.3, "titlePadding": 5.3}}}},
   {"mark": {"type": "point", "opacity": 0},
    "encoding": {"x": {"field": "v", "type": "quantitative", "scale": {"domain": [0, 256], "nice": false}, "axis": {"orient": "top", "labels": false, "title": null, "values": [0, 50, 100, 150, 200, 250]}},
                 "y": {"field": "r", "type": "quantitative", "scale": {"domain": [0, 1200], "nice": false}, "axis": {"orient": "right", "labels": false, "title": null, "values": [0, 200, 400, 600, 800, 1000, 1200]}}}}
  ],
  "resolve": {"axis": {"x": "independent", "y": "independent"}}},
 {"width": 250, "height": 197, "data": {"name": "e2"}, "title": {"text": "(k)\u00a0 Enc-Green-Data2", "offset": 18.5},
  "layer": [
   {"mark": {"type": "area", "interpolate": "step", "color": "#00ff00", "clip": true},
    "encoding": {"x": {"field": "v", "type": "quantitative", "scale": {"domain": [0, 256], "nice": false}, "axis": {"values": [0, 50, 100, 150, 200, 250], "title": "Grayscale values", "labelFontSize": 7.5, "labelPadding": 5, "titleFont": "Liberation Sans", "titleFontSize": 11.3, "titlePadding": 4.5}},
                 "y": {"field": "g", "type": "quantitative", "scale": {"domain": [0, 1200], "nice": false}, "axis": {"values": [0, 200, 400, 600, 800, 1000, 1200], "title": "Frequency distribution", "labelFontSize": 7.5, "labelPadding": 5, "titleFont": "Liberation Sans", "titleFontSize": 11.3, "titlePadding": 5.3}}}},
   {"mark": {"type": "point", "opacity": 0},
    "encoding": {"x": {"field": "v", "type": "quantitative", "scale": {"domain": [0, 256], "nice": false}, "axis": {"orient": "top", "labels": false, "title": null, "values": [0, 50, 100, 150, 200, 250]}},
                 "y": {"field": "g", "type": "quantitative", "scale": {"domain": [0, 1200], "nice": false}, "axis": {"orient": "right", "labels": false, "title": null, "values": [0, 200, 400, 600, 800, 1000, 1200]}}}}
  ],
  "resolve": {"axis": {"x": "independent", "y": "independent"}}},
 {"width": 250, "height": 197, "data": {"name": "e2"}, "title": {"text": "(l)\u00a0 Enc-Blue-Data2", "offset": 18.5},
  "layer": [
   {"mark": {"type": "area", "interpolate": "step", "color": "#0000ff", "clip": true},
    "encoding": {"x": {"field": "v", "type": "quantitative", "scale": {"domain": [0, 256], "nice": false}, "axis": {"values": [0, 50, 100, 150, 200, 250], "title": "Grayscale values", "labelFontSize": 7.5, "labelPadding": 5, "titleFont": "Liberation Sans", "titleFontSize": 11.3, "titlePadding": 4.5}},
                 "y": {"field": "b", "type": "quantitative", "scale": {"domain": [0, 1200], "nice": false}, "axis": {"values": [0, 200, 400, 600, 800, 1000, 1200], "title": "Frequency distribution", "labelFontSize": 7.5, "labelPadding": 5, "titleFont": "Liberation Sans", "titleFontSize": 11.3, "titlePadding": 5.3}}}},
   {"mark": {"type": "point", "opacity": 0},
    "encoding": {"x": {"field": "v", "type": "quantitative", "scale": {"domain": [0, 256], "nice": false}, "axis": {"orient": "top", "labels": false, "title": null, "values": [0, 50, 100, 150, 200, 250]}},
                 "y": {"field": "b", "type": "quantitative", "scale": {"domain": [0, 1200], "nice": false}, "axis": {"orient": "right", "labels": false, "title": null, "values": [0, 200, 400, 600, 800, 1000, 1200]}}}}
  ],
  "resolve": {"axis": {"x": "independent", "y": "independent"}}}
], "spacing": 79, "bounds": "flush"}
],
"columns": 1,
"align": "none",
"bounds": "flush",
"spacing": 298
}
